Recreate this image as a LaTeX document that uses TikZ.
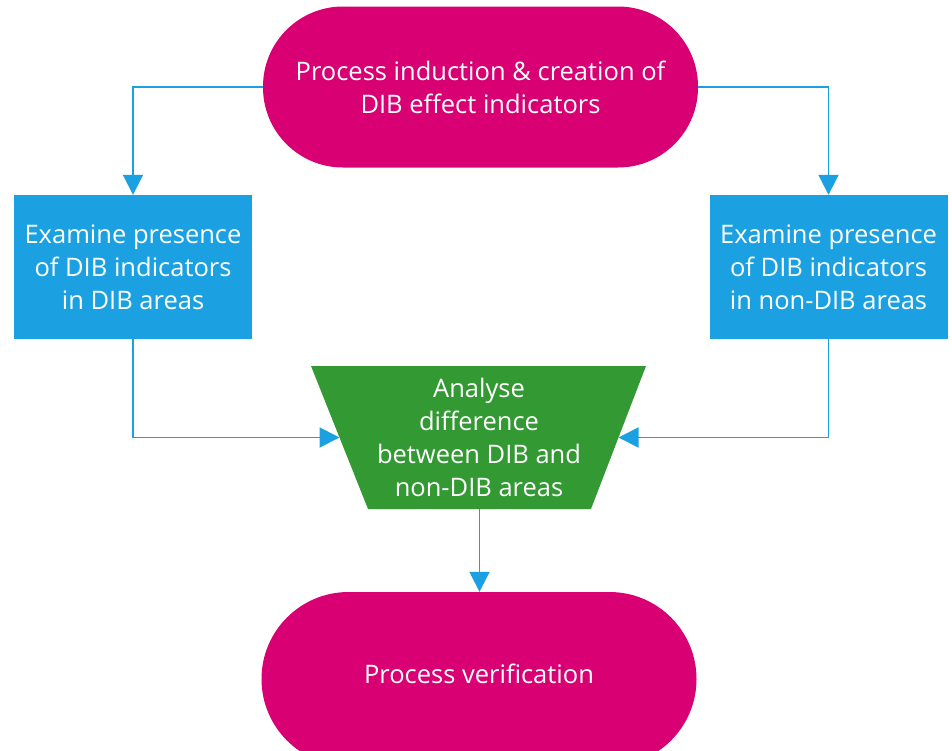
\documentclass[tikz,border=0pt]{standalone}
\usepackage{fontspec}
\setmainfont{Open Sans}
\usetikzlibrary{arrows.meta,calc}
\definecolor{mag}{HTML}{D80073}
\definecolor{cyanb}{HTML}{1BA1E2}
\definecolor{grn}{HTML}{339933}
\begin{document}
\begin{tikzpicture}[x=1pt,y=-1pt,
  txt/.style={text=white,font=\fontsize{25.5}{33}\selectfont,align=center},
  term/.style={txt,fill=mag,rounded corners=80pt,minimum width=435pt,minimum height=161pt,inner sep=0pt},
  bluebox/.style={txt,fill=cyanb,minimum width=238pt,minimum height=144pt,inner sep=0pt},
  conn/.style={draw=cyanb,line width=1.9pt,-{Triangle[length=20pt,width=20pt]}}]
\useasboundingbox (0,0) rectangle (952,750);
\node[term] (top) at (480.5,87) {Process induction \& creation of\\DIB effect indicators};
\node[bluebox] (lbox) at (133,267) {Examine presence\\of DIB indicators\\in DIB areas};
\node[bluebox] (rbox) at (828.5,267) {Examine presence\\of DIB indicators\\in non-DIB areas};
\fill[grn] (311,366) coordinate (ttl) -- (646,366) coordinate (ttr) -- (591,509) coordinate (tbr) -- (368,509) coordinate (tbl) -- cycle;
\node[txt,inner sep=0pt] (trap) at (479,437) {Analyse\\difference\\between DIB and\\non-DIB areas};
\node[term,minimum height=174pt,rounded corners=87pt] (bot) at (479,679) {\raisebox{10pt}{Process verification}};
\coordinate (tleft) at ($(ttl)!0.5!(tbl)$);
\coordinate (tright) at ($(ttr)!0.5!(tbr)$);
\coordinate (tbot) at ($(tbl)!0.5!(tbr)$);
\draw[conn] (top.west) -| (lbox.north);
\draw[conn] (top.east) -| (rbox.north);
\draw[conn] (lbox.south) |- (tleft);
\draw[conn] (rbox.south) |- (tright);
\draw[conn] (tbot) -- (tbot |- bot.north);
\end{tikzpicture}
\end{document}
